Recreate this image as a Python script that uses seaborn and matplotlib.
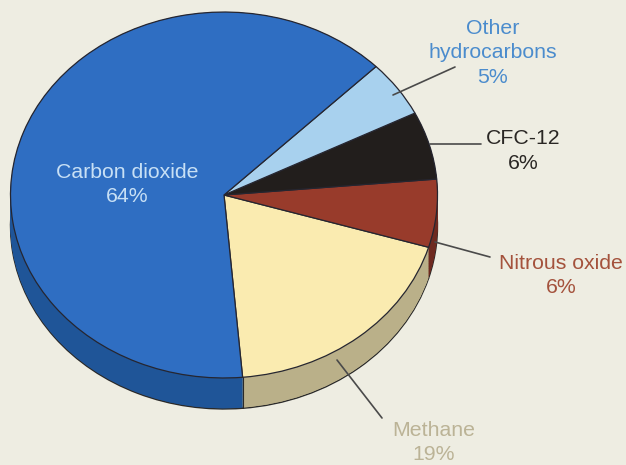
import numpy as np
import matplotlib
matplotlib.use("Agg")
import matplotlib.pyplot as plt
import seaborn as sns

# Shares of greenhouse-gas contributions (percent), counter-clockwise from Methane
gases = ["Methane", "Nitrous oxide", "CFC-12", "Other hydrocarbons", "Carbon dioxide"]
shares = [19, 6, 6, 5, 64]
label_texts = ["Methane\n19%", "Nitrous oxide\n6%", "CFC-12\n6%",
               "Other\nhydrocarbons\n5%", "Carbon dioxide\n64%"]

top_colors = ["#FAEBB0", "#983B2B", "#221E1C", "#A8D1EE", "#2F6EC2"]
side_colors = ["#BAB089", "#6E2A20", "#141210", "#7FA6C8", "#1F5598"]
label_colors = ["#BBB396", "#A4523C", "#2A2724", "#4B8CCD", "#C8E0F5"]

sns.set_theme(style="white")
plt.rcParams["font.family"] = ["Liberation Sans", "DejaVu Sans"]

W, H = 626, 465
BG = "#EEEDE2"
TILT = 0.857          # vertical squash of the disc
CX, CY = 224, 195     # centre of the top face (pixels)
R = 213.5             # radius (pixels, horizontal)
DEPTH = 31            # thickness of the disc (pixels)


def yd(y_img):
    """Convert an image-row position to the squashed data coordinate."""
    return (H - y_img) / TILT


fig = plt.figure(figsize=(W / 100, H / 100), dpi=100, facecolor=BG)
ax = fig.add_axes([0, 0, 1, 1])
ax.set_facecolor(BG)

start = -85
depth_d = DEPTH / TILT

# Side wall: stacked copies of the pie from the bottom face up to the top face
offsets = np.linspace(depth_d, 0, 45)
for i, off in enumerate(offsets):
    ax.pie(shares, colors=side_colors, startangle=start, radius=R,
           center=(CX, yd(CY) - off), frame=True,
           wedgeprops=dict(linewidth=1.0 if i == 0 else 0,
                           edgecolor="#2A2A2A" if i == 0 else "none",
                           antialiased=True))

# Top face
ax.pie(shares, colors=top_colors, startangle=start, radius=R,
       center=(CX, yd(CY)), frame=True,
       wedgeprops=dict(linewidth=0.9, edgecolor="#262630"))

# Dividing line on the side wall between Carbon dioxide and Methane
theta = np.deg2rad(start)
bx = CX + R * np.cos(theta)
by = yd(CY) + R * np.sin(theta)
ax.plot([bx, bx], [by, by - depth_d], color="#2A2A2A", lw=0.8)

ax.set_xlim(0, W)
ax.set_ylim(0, H / TILT)
ax.set_aspect("auto")
ax.axis("off")

# Labels
label_pos = {
    "Methane": (434, 442.5),
    "Nitrous oxide": (561, 275.5),
    "CFC-12": (523, 151),
    "Other hydrocarbons": (493, 53),
    "Carbon dioxide": (127, 184.5),
}
for gas, txt, col in zip(gases, label_texts, label_colors):
    x, y = label_pos[gas]
    ax.text(x, yd(y), txt, ha="center", va="center", color=col,
            fontsize=15.3, linespacing=1.37)

# Leader lines
leaders = [
    ((337, 360), (382, 418)),
    ((435, 242), (490, 257)),
    ((430, 144), (481, 144)),
    ((393, 95), (455, 67)),
]
for (x1, y1), (x2, y2) in leaders:
    ax.plot([x1, x2], [yd(y1), yd(y2)], color="#4A4A4A", lw=1.2)

fig.savefig("out.png", dpi=100, facecolor=BG)
